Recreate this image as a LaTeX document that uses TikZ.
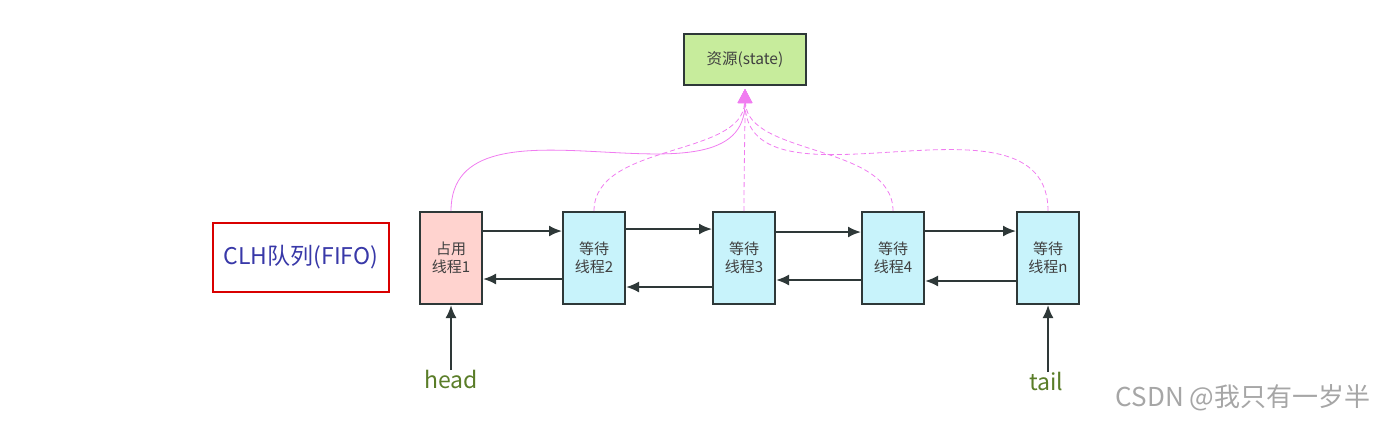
\documentclass[tikz,border=0pt]{standalone}
\usepackage{fontspec}
\usepackage{xcolor}
\usepackage{tikz}
\usetikzlibrary{arrows.meta,positioning}
\newfontfamily\cjk{Noto Sans CJK SC}
\definecolor{cline}{HTML}{2E3838}
\definecolor{cown}{HTML}{FFD3CF}
\definecolor{cwait}{HTML}{C8F3FB}
\definecolor{cres}{HTML}{C7EC9C}
\definecolor{clink}{HTML}{F07CF0}
\definecolor{cqueue}{HTML}{3838A8}
\definecolor{cptr}{HTML}{5A7D28}
\tikzset{
  thr/.style={rectangle, draw=cline, line width=2pt, fill=cwait, align=center,
    minimum width=62pt, minimum height=92pt, inner sep=2pt,
    font=\cjk\fontsize{15}{18}\selectfont, text=black!75},
  res/.style={rectangle, draw=cline, line width=2pt, fill=cres,
    minimum width=122pt, minimum height=51pt,
    font=\cjk\fontsize{15.5}{18}\selectfont, text=black!75},
  ptr/.style={font=\cjk\fontsize{23}{26}\selectfont, text=cptr},
  arr/.style={-{Latex[length=13pt,width=11pt]}, line width=2pt, draw=cline},
  link/.style={-{Triangle[length=14pt,width=14pt,fill=clink]}, line width=0.8pt, draw=clink},
  dlink/.style={link, dash pattern=on 5pt off 3pt},
}

\begin{document}
\begin{tikzpicture}[x=1pt, y=-1pt]
  \useasboundingbox (0,0) rectangle (1378,421);

  \node[res] (res) at (745,59.5) {资源(state)};

  \node[thr, fill=cown] (t1) at (451,258) {占用\\线程1};
  \node[thr, right=79pt of t1] (t2) {等待\\线程2};
  \node[thr, right=86pt of t2] (t3) {等待\\线程3};
  \node[thr, right=85pt of t3] (t4) {等待\\线程4};
  \node[thr, right=91pt of t4] (tn) {等待\\线程n};

  \node[draw=red!85!black, line width=1.6pt, minimum width=176pt, minimum height=69pt,
    font=\cjk\fontsize{23}{26}\selectfont, text=cqueue] (clh) at (301,257.5) {CLH队列(FIFO)};

  \node[ptr] (head) at (451,379) {head};
  \node[ptr] (tail) at (1046,381) {tail};
  \node[font=\cjk\fontsize{26}{29}\selectfont, text=black!35, anchor=east] (mark) at (1374,398)
    {CSDN @我只有一岁半};

  % next / prev links
  \draw[arr] ([yshift=27pt]t1.east) -- ([yshift=27pt]t2.west);
  \draw[arr] ([yshift=-21pt]t2.west) -- ([yshift=-21pt]t1.east);
  \draw[arr] ([yshift=29pt]t2.east) -- ([yshift=29pt]t3.west);
  \draw[arr] ([yshift=-29pt]t3.west) -- ([yshift=-29pt]t2.east);
  \draw[arr] ([yshift=26pt]t3.east) -- ([yshift=26pt]t4.west);
  \draw[arr] ([yshift=-22pt]t4.west) -- ([yshift=-22pt]t3.east);
  \draw[arr] ([yshift=27pt]t4.east) -- ([yshift=27pt]tn.west);
  \draw[arr] ([yshift=-23pt]tn.west) -- ([yshift=-23pt]t4.east);

  \draw[arr] ([yshift=-4pt]head.north) -- (t1.south);
  \draw[arr] ([yshift=-4pt]tn.south |- tail.north) -- (tn.south);

  % state access
  \draw[link] (t1.north) to[out=90, in=-90, looseness=1.05] ([yshift=-3pt]res.south);
  \draw[dlink] (t2.north) to[out=90, in=-92, looseness=0.9] ([yshift=-3pt]res.south);
  \draw[dlink] (t3.north) to[out=90, in=-90] ([yshift=-3pt]res.south);
  \draw[dlink] (t4.north) to[out=90, in=-88, looseness=0.9] ([yshift=-3pt]res.south);
  \draw[dlink] (tn.north) to[out=90, in=-90, looseness=1.05] ([yshift=-3pt]res.south);
\end{tikzpicture}
\end{document}
